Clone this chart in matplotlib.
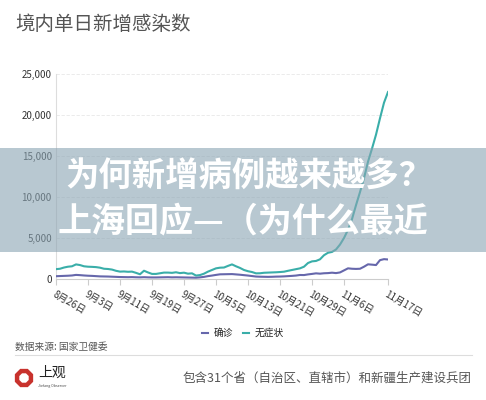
import numpy as np
import pandas as pd
import matplotlib.pyplot as plt
from matplotlib.patches import Rectangle, RegularPolygon

plt.rcParams['font.family'] = ['Noto Sans CJK SC', 'DejaVu Sans']

# daily values, 2022-08-26 .. 2022-11-17
dates = pd.date_range('2022-08-26', '2022-11-17')
confirmed = [340, 360, 380, 400, 430, 500, 470, 430, 400, 380,
             350, 320, 310, 300, 280, 260, 240, 230, 220, 230,
             210, 200, 220, 200, 190, 190, 200, 210, 220, 200,
             210, 200, 190, 180, 170, 160, 200, 260, 350, 420,
             500, 570, 580, 590, 600, 560, 520, 470, 420, 360,
             300, 280, 270, 260, 270, 290, 300, 320, 350, 380,
             420, 490, 480, 560, 620, 690, 650, 700, 720, 770,
             720, 800, 1050, 1300, 1250, 1230, 1250, 1500, 1790, 1750,
             1700, 2300, 2420, 2380]
asymptomatic = [1200, 1250, 1400, 1500, 1550, 1780, 1700, 1550, 1500, 1480,
                1450, 1380, 1250, 1220, 1150, 1000, 900, 920, 880, 900,
                750, 580, 1010, 800, 620, 620, 700, 780, 780, 750,
                820, 720, 770, 650, 690, 420, 480, 650, 900, 1100,
                1300, 1380, 1400, 1600, 1780, 1550, 1350, 1100, 950, 850,
                690, 700, 760, 780, 800, 820, 850, 890, 1000, 1100,
                1200, 1300, 1500, 1950, 2150, 2200, 2400, 2900, 3200, 3300,
                3600, 4200, 5000, 6000, 7300, 9000, 10600, 12300, 14300, 15900,
                17600, 19600, 21500, 22800]
tick_dates = pd.to_datetime(['2022-08-26', '2022-09-03', '2022-09-11', '2022-09-19',
                             '2022-09-27', '2022-10-05', '2022-10-13', '2022-10-21',
                             '2022-10-29', '2022-11-06', '2022-11-17'])
yticks = [0, 5000, 10000, 15000, 20000, 25000]

fig = plt.figure(figsize=(4.86, 4.0), dpi=100)
W, H = 486, 400
ax = fig.add_axes([56 / W, 1 - 279 / H, 332 / W, 205 / H])

ax.plot(dates, confirmed, color='#6667ab', lw=1.5, label='确诊', zorder=3)
ax.plot(dates, asymptomatic, color='#3aaea9', lw=1.5, label='无症状', zorder=3)

ax.set_xlim(dates[0], dates[-1])
ax.set_ylim(0, 25000)
ax.set_yticks(yticks)
ax.set_yticklabels([f'{v:,}' for v in yticks], fontsize=7, color='#333333')
ax.set_xticks(tick_dates)
ax.set_xticklabels([f'{d.month}月{d.day}日' for d in tick_dates], fontsize=7,
                   color='#333333', rotation=-30, ha='left', va='top',
                   rotation_mode='anchor')
ax.tick_params(axis='y', length=0, pad=3)
ax.tick_params(axis='x', length=4, color='#cccccc', pad=3)
ax.grid(axis='y', color='#e8e8e8', lw=0.6, linestyle=(0, (4, 2)))
for s in ['top', 'right']:
    ax.spines[s].set_visible(False)
ax.spines['left'].set_color('#dddddd')
ax.spines['bottom'].set_color('#cccccc')
ax.spines['left'].set_linewidth(0.8)
ax.spines['bottom'].set_linewidth(0.8)

fig.legend(loc='center', bbox_to_anchor=(243 / W, 1 - 333 / H), ncol=2,
           frameon=False, fontsize=7, handlelength=0.6, columnspacing=1.0,
           handletextpad=0.6, labelcolor='#222222')

# decoration layer in pixel coordinates
ov = fig.add_axes([0, 0, 1, 1])
ov.set_xlim(0, W)
ov.set_ylim(H, 0)
ov.axis('off')
ov.patch.set_alpha(0)

ov.text(15, 25, '境内单日新增感染数', fontsize=14, color='#555555',
        ha='left', va='center')

ov.add_patch(Rectangle((0, 148), W, 104, color='#8aa4b3', alpha=0.6, lw=0))
ov.text(65, 177, '为何新增病例越来越多？', fontsize=24, color='white',
        fontweight='black', ha='left', va='center')
ov.text(243, 221, '上海回应—（为什么最近', fontsize=24.5, color='white',
        fontweight='black', ha='center', va='center')

ov.text(15, 347, '数据来源: 国家卫健委', fontsize=7, color='#555555',
        ha='left', va='center')
ov.plot([15, 472], [355, 355], color='#dddddd', lw=0.8)

ov.add_patch(RegularPolygon((24, 378), 8, radius=7.5, orientation=np.pi / 8,
                            facecolor='none', edgecolor='#c8322d', lw=3.2))
ov.text(38, 373, '上观', fontsize=10, color='#222222', ha='left', va='center')
ov.text(38, 386, 'Jiefang Observer', fontsize=2.6, color='#444444',
        ha='left', va='center')
ov.text(472, 378, '包含31个省（自治区、直辖市）和新疆生产建设兵团', fontsize=9,
        color='#555555', ha='right', va='center')

fig.savefig('out.png', dpi=100)
